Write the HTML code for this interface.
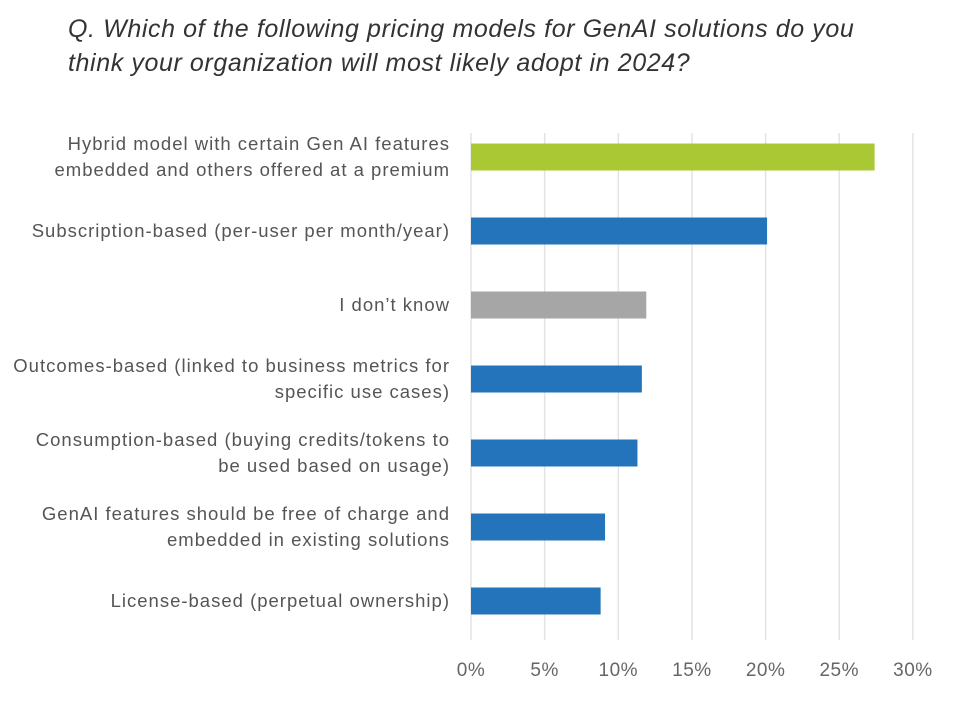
<!DOCTYPE html>
<html><head><meta charset="utf-8"><style>
body{margin:0;background:#fff;width:959px;height:703px;overflow:hidden;font-family:"Liberation Sans",sans-serif}
.t{position:absolute;left:68px;top:12px;font-size:25px;letter-spacing:0.6px;font-style:italic;color:#333;line-height:34px;margin:0;font-weight:normal}
</style></head><body>
<h1 class="t">Q. Which of the following pricing models for GenAI solutions do you<br>think your organization will most likely adopt in 2024?</h1>
<svg id="c" width="959" height="703" style="position:absolute;left:0;top:0"></svg>
<script>
const categories=[["Hybrid model with certain Gen AI features","embedded and others offered at a premium"],["Subscription-based (per-user per month/year)"],["I don’t know"],["Outcomes-based (linked to business metrics for","specific use cases)"],["Consumption-based (buying credits/tokens to","be used based on usage)"],["GenAI features should be free of charge and","embedded in existing solutions"],["License-based (perpetual ownership)"]];
const values=[27.4,20.1,11.9,11.6,11.3,9.1,8.8];
const colors=["#a9c833","#2474bb","#a6a6a6","#2474bb","#2474bb","#2474bb","#2474bb"];
const ticks=[0,5,10,15,20,25,30];
const tickLabels=["0%","5%","10%","15%","20%","25%","30%"];
const svg=document.getElementById('c');const NS="http://www.w3.org/2000/svg";
const x=v=>471+v*14.73;const y=i=>157+i*74;
function mk(t,a){const e=document.createElementNS(NS,t);for(const k in a)e.setAttribute(k,a[k]);svg.appendChild(e);return e;}
ticks.forEach((t,i)=>{
const g=mk('line',{x1:x(t),x2:x(t),y1:133,y2:640,stroke:'#e3e3e3','stroke-width':1.5});


const l=mk('text',{x:x(t),y:676,'text-anchor':'middle','font-size':19,fill:'#666','letter-spacing':0.5});
l.textContent=tickLabels[i];


});
values.forEach((v,i)=>{
const r=mk('rect',{x:x(0),y:y(i)-13.5,width:x(v)-x(0),height:27,fill:colors[i]});


const lines=categories[i];
lines.forEach((s,j)=>{
const tx=mk('text',{x:450,y:y(i)+6+(j-(lines.length-1)/2)*26,'text-anchor':'end','font-size':18.5,'letter-spacing':1,fill:'#555'});
tx.textContent=s;


});
});
</script>
</body></html>
